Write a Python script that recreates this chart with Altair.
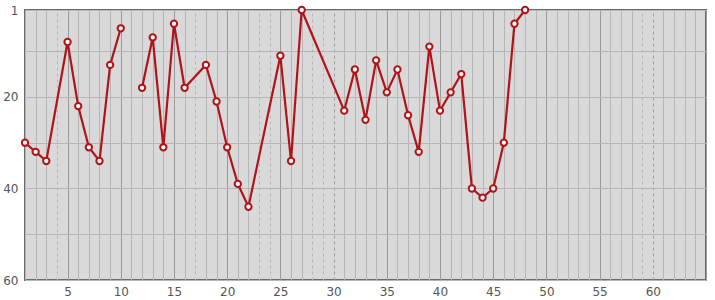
import altair as alt
import pandas as pd

# Day index and rank values (None = break in the line)
days = [1, 2, 3, 5, 6, 7, 8, 9, 10, 11, 12, 13, 14, 15, 16, 18, 19, 20, 21, 22,
        25, 26, 27, 31, 32, 33, 34, 35, 36, 37, 38, 39, 40, 41, 42, 43, 44, 45,
        46, 47, 48]
ranks = [30, 32, 34, 8, 22, 31, 34, 13, 5, None, 18, 7, 31, 4, 18, 13, 21, 31, 39, 44,
         11, 34, 1, 23, 14, 25, 12, 19, 14, 24, 32, 9, 23, 19, 15, 40, 42, 40,
         30, 4, 1]
marked_days = [4, 17, 23, 24, 28, 29, 30, 59, 60]
x_ticks = list(range(1, 66))
x_labels = [5, 10, 15, 20, 25, 30, 35, 40, 45, 50, 55, 60]
y_grid = [1, 10, 20, 30, 40, 50, 60]
y_labels = [1, 20, 40, 60]

seg, cur = [], 0
for r in ranks:
    if r is None:
        cur += 1
    seg.append(cur)
df = pd.DataFrame({"day": days, "rank": ranks, "seg": seg}).dropna()

LINE = "#b01419"
marked_js = "[" + ",".join(str(d) for d in marked_days) + "]"
xlab_js = "[" + ",".join(str(d) for d in x_labels) + "]"
ylab_js = "[" + ",".join(str(d) for d in y_labels) + "]"

x_axis = alt.Axis(
    values=x_ticks,
    labelExpr=f"indexof({xlab_js}, datum.value) >= 0 ? datum.label : ''",
    ticks=False, domain=False, title=None,
    labelFont="DejaVu Sans", labelFontSize=12, labelColor="#555",
    labelPadding=6, labelFlush=False, labelOverlap=False,
    grid=True, gridWidth=1,
    gridColor={"condition": {"test": "datum.value % 5 === 0", "value": "#9a9a9a"},
               "value": "#b6b6b6"},
    gridDash={"condition": {"test": f"indexof({marked_js}, datum.value) >= 0",
                            "value": [3, 3]},
              "value": []},
)
y_axis = alt.Axis(
    values=y_grid,
    labelExpr=f"indexof({ylab_js}, datum.value) >= 0 ? datum.label : ''",
    ticks=False, domain=False, title=None,
    labelFont="DejaVu Sans", labelFontSize=12, labelColor="#555",
    labelPadding=7, labelFlush=False, labelOverlap=False,
    grid=True, gridColor="#b6b6b6", gridWidth=1,
)

base = alt.Chart(df).encode(
    x=alt.X("day:Q", scale=alt.Scale(domain=[1, 65], nice=False, zero=False), axis=x_axis),
    y=alt.Y("rank:Q", scale=alt.Scale(domain=[1, 60], reverse=True, nice=False, zero=False),
            axis=y_axis),
)
line = base.mark_line(color=LINE, strokeWidth=2.2).encode(detail="seg:N", order="day:Q")
pts = base.mark_point(shape="circle", filled=True, fill="white", stroke=LINE,
                      strokeWidth=2, size=40, opacity=1)

chart = (line + pts).properties(
    width=681, height=270,
    background="white",
    autosize=alt.AutoSizeParams(type="none"),
    padding={"left": 25, "top": 10, "right": 9, "bottom": 20},
).configure_view(fill="#d9d9d9", stroke="#6a6a6a", strokeWidth=2)

chart.save("out.html", embed_options={"renderer": "svg", "actions": False})
